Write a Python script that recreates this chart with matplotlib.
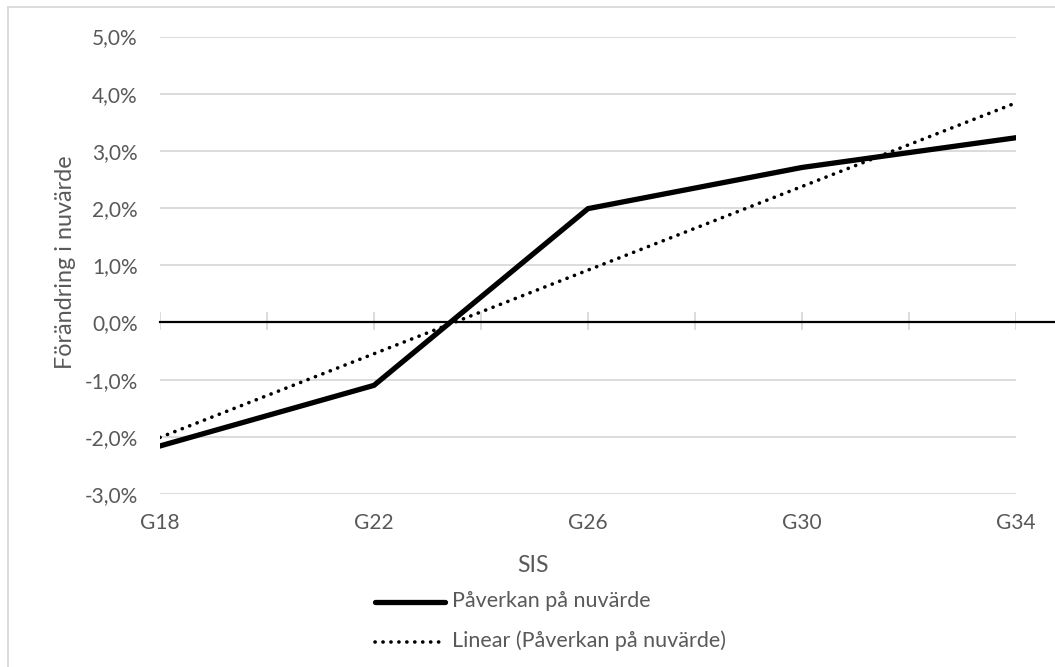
import matplotlib.pyplot as plt
from matplotlib.lines import Line2D

# Data
categories = ["G18", "G22", "G26", "G30", "G34"]
impact = [-2.16, -1.10, 1.99, 2.71, 3.23]          # Påverkan på nuvärde (%)
trend_ends = [-2.01, 3.84]                         # Excel linear trendline, G18 -> G34 (%)
y_ticks = [-3, -2, -1, 0, 1, 2, 3, 4, 5]

GRAY_TXT = "#595959"
GRID = "#d9d9d9"
FONT = ["Lato", "DejaVu Sans"]
DOTS = (0, (0.05, 2.15))

plt.rcParams["font.family"] = FONT

fig = plt.figure(figsize=(10.55, 6.67), dpi=100)
W, H = 1055, 667
ax = fig.add_axes([160 / W, 1 - 494 / H, (1016 - 160) / W, (494 - 36.5) / H])

x = list(range(len(categories)))

# gridlines
for v in y_ticks:
    if v != 0:
        ax.axhline(v, color=GRID, lw=1.3, zorder=0)

# zero axis line runs out to the right edge of the picture
ax.plot([0, 4.2], [0, 0], color="black", lw=1.6, zorder=2, clip_on=False)

# minor category ticks crossing the zero line
for t in [i * 0.5 for i in range(9)]:
    ax.plot([t, t], [-0.12, 0.17], color=GRID, lw=1.3, zorder=1)

ax.plot(x, impact, color="black", lw=3.8, solid_joinstyle="miter", zorder=3)
ax.plot([x[0], x[-1]], trend_ends, color="black", lw=2.6,
        linestyle=DOTS, dash_capstyle="round", zorder=4)

ax.set_xlim(0, 4)
ax.set_ylim(-3, 5)
ax.set_yticks(y_ticks)
ax.set_yticklabels([f"{v:.1f}%".replace(".", ",") for v in y_ticks])
ax.set_xticks(x)
ax.set_xticklabels(categories)
ax.tick_params(axis="both", length=0, colors=GRAY_TXT, labelsize=15)
ax.tick_params(axis="y", pad=16)
ax.tick_params(axis="x", pad=14)
for s in ax.spines.values():
    s.set_visible(False)

fig.text(66 / W, 1 - 262 / H, "Förändring i nuvärde", rotation=90, ha="center",
         va="center", color=GRAY_TXT, fontsize=16.8)
fig.text(533 / W, 1 - 565 / H, "SIS", ha="center", va="center",
         color=GRAY_TXT, fontsize=16.5)

# legend
fig.add_artist(Line2D([375 / W, 445 / W], [1 - 602 / H] * 2, color="black", lw=3.8,
                      solid_capstyle="round"))
fig.add_artist(Line2D([375 / W, 445 / W], [1 - 642 / H] * 2, color="black", lw=2.6,
                      linestyle=DOTS, dash_capstyle="round"))
fig.text(452 / W, 1 - 601 / H, "Påverkan på nuvärde", ha="left", va="center",
         color=GRAY_TXT, fontsize=15.5)
fig.text(452 / W, 1 - 641 / H, "Linear (Påverkan på nuvärde)", ha="left", va="center",
         color=GRAY_TXT, fontsize=15.5)

# chart border (left and top visible in the crop)
fig.add_artist(Line2D([8 / W, 8 / W], [0, 1 - 7 / H], color=GRID, lw=1.3))
fig.add_artist(Line2D([8 / W, 1], [1 - 7 / H] * 2, color=GRID, lw=1.3))

fig.savefig("out.png", dpi=100)
